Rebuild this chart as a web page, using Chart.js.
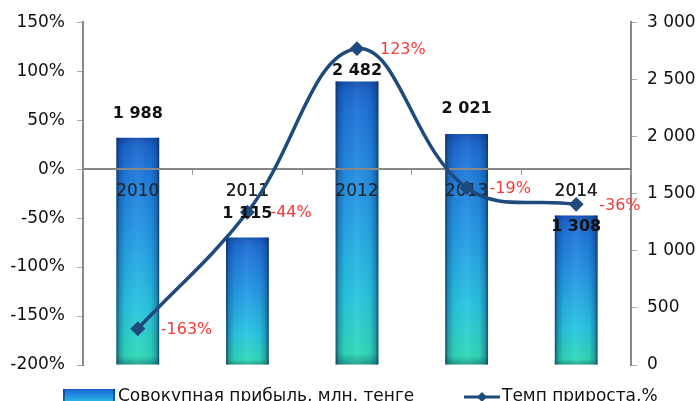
<!DOCTYPE html>
<html>
<head>
<meta charset="utf-8">
<script src="https://cdn.jsdelivr.net/npm/chart.js@4"></script>
<style>
  html, body { margin: 0; padding: 0; background: #fff; }
  #wrap { width: 699px; height: 401px; position: relative; }
</style>
</head>
<body>
<div id="wrap"><canvas id="chart"></canvas></div>
<script>
const years = ["2010", "2011", "2012", "2013", "2014"];
const profit = [1988, 1115, 2482, 2021, 1308];
const growth = [-163, -44, 123, -19, -36];
const profitName = "Совокупная прибыль, млн. тенге";
const growthName = "Темп прироста,%";

const FONT = "'DejaVu Sans', sans-serif";
const LINE_COLOR = "#1f4a7e";
// vertical nudge of each bar value label, from bar top
const barLabelDy = [-24, -24, -11, -25, 11];

function fmt(v) {
  return String(v).replace(/\B(?=(\d{3})+(?!\d))/g, " ");
}

function barGradient(ctx, top, bottom) {
  const g = ctx.createLinearGradient(0, top, 0, bottom);
  g.addColorStop(0, "#1550b0");
  g.addColorStop(0.04, "#1a66cc");
  g.addColorStop(0.12, "#1e74d8");
  g.addColorStop(0.4, "#2495e4");
  g.addColorStop(0.75, "#28c4e0");
  g.addColorStop(0.96, "#2fd8b8");
  g.addColorStop(1, "#1f9a8a");
  return g;
}

const labelsPlugin = {
  id: "labels",
  afterDatasetDraw(chart, args) {
    if (args.index !== 1) return;
    const ctx = chart.ctx;
    const meta = chart.getDatasetMeta(1);
    ctx.save();
    meta.data.forEach((bar) => {
      const w = bar.width;
      const left = bar.x - w / 2;
      const g = ctx.createLinearGradient(left, 0, left + w, 0);
      g.addColorStop(0, "rgba(10,35,80,0.75)");
      g.addColorStop(0.07, "rgba(10,35,80,0.3)");
      g.addColorStop(0.2, "rgba(10,35,80,0.05)");
      g.addColorStop(0.5, "rgba(255,255,255,0.06)");
      g.addColorStop(0.8, "rgba(10,35,80,0.05)");
      g.addColorStop(0.93, "rgba(10,35,80,0.3)");
      g.addColorStop(1, "rgba(10,35,80,0.75)");
      ctx.fillStyle = g;
      ctx.fillRect(left, bar.y, w, bar.base - bar.y);
    });
    ctx.restore();
    // category axis sits on top of the bars
    chart.scales.x.draw(chart.chartArea);
  },
  afterDraw(chart) {
    const ctx = chart.ctx;
    ctx.save();
    // bar values
    ctx.font = "bold 16px " + FONT;
    ctx.fillStyle = "#111";
    ctx.textAlign = "center";
    ctx.textBaseline = "middle";
    chart.getDatasetMeta(1).data.forEach((bar, i) => {
      ctx.fillText(fmt(profit[i]), bar.x, bar.y + barLabelDy[i]);
    });
    // growth values
    ctx.font = "16px " + FONT;
    ctx.fillStyle = "#f23a3a";
    ctx.textAlign = "left";
    chart.getDatasetMeta(0).data.forEach((pt, i) => {
      ctx.fillText(growth[i] + "%", pt.x + 23, pt.y + 1);
    });
    // legend (cut by the bottom edge like the original)
    const ly = 397;
    ctx.fillStyle = barGradient(ctx, 389, 408);
    ctx.fillRect(63, 389, 52, 14);
    ctx.fillStyle = "rgba(10,35,80,0.5)";
    ctx.fillRect(63, 389, 2, 14);
    ctx.fillRect(113, 389, 2, 14);
    ctx.font = "17px " + FONT;
    ctx.fillStyle = "#111";
    ctx.fillText(profitName, 118, ly);
    ctx.strokeStyle = LINE_COLOR;
    ctx.lineWidth = 3;
    ctx.beginPath();
    ctx.moveTo(464, ly);
    ctx.lineTo(500, ly);
    ctx.stroke();
    ctx.fillStyle = LINE_COLOR;
    ctx.beginPath();
    ctx.moveTo(482, ly - 5);
    ctx.lineTo(487, ly);
    ctx.lineTo(482, ly + 5);
    ctx.lineTo(477, ly);
    ctx.closePath();
    ctx.fill();
    ctx.fillStyle = "#111";
    ctx.fillText(growthName, 502, ly);
    ctx.restore();
  },
};

new Chart(document.getElementById("chart"), {
  data: {
    labels: years,
    datasets: [
      {
        type: "line",
        label: growthName,
        data: growth,
        yAxisID: "yL",
        borderColor: LINE_COLOR,
        backgroundColor: LINE_COLOR,
        borderWidth: 3.5,
        tension: 0.4,
        pointStyle: "rectRot",
        pointRadius: 5,
        order: 0,
      },
      {
        type: "bar",
        label: profitName,
        data: profit,
        yAxisID: "yR",
        categoryPercentage: 1,
        barPercentage: 0.39,
        borderWidth: 0,
        backgroundColor(c) {
          const chart = c.chart;
          if (!chart.chartArea || c.parsed === undefined || c.parsed.y === undefined) return "#1a8de6";
          const top = chart.scales.yR.getPixelForValue(c.parsed.y);
          const bottom = chart.scales.yR.getPixelForValue(0);
          return barGradient(chart.ctx, top, bottom);
        },
        order: 1,
      },
    ],
  },
  options: {
    responsive: true,
    maintainAspectRatio: false,
    animation: false,
    layout: { padding: { top: 20, bottom: 36, left: 0, right: 0 } },
    plugins: {
      legend: { display: false },
      tooltip: { enabled: false },
    },
    scales: {
      x: {
        type: "category",
        position: { yL: 0 },
        offset: true,
        grid: {
          offset: true,
          drawOnChartArea: false,
          tickLength: 5,
          color: "#999",
        },
        border: { color: "#888", width: 2 },
        ticks: {
          color: "#222",
          font: { family: FONT, size: 17 },
          padding: 7,
          maxRotation: 0,
        },
      },
      yL: {
        position: "left",
        min: -200,
        max: 150,
        afterFit(scale) {
          scale.width = 83;
        },
        ticks: {
          stepSize: 50,
          color: "#111",
          font: { family: FONT, size: 17 },
          padding: 12,
          callback: (v) => v + "%",
        },
        grid: { drawOnChartArea: false, tickLength: 6, color: "#aaa" },
        border: { color: "#888", width: 2 },
      },
      yR: {
        position: "right",
        min: 0,
        max: 3000,
        afterFit(scale) {
          scale.width = 68;
        },
        ticks: {
          stepSize: 500,
          color: "#111",
          font: { family: FONT, size: 17 },
          padding: 10,
          callback: (v) => fmt(v),
        },
        grid: { drawOnChartArea: false, tickLength: 6, color: "#aaa" },
        border: { color: "#888", width: 2 },
      },
    },
  },
  plugins: [labelsPlugin],
});
</script>
</body>
</html>
